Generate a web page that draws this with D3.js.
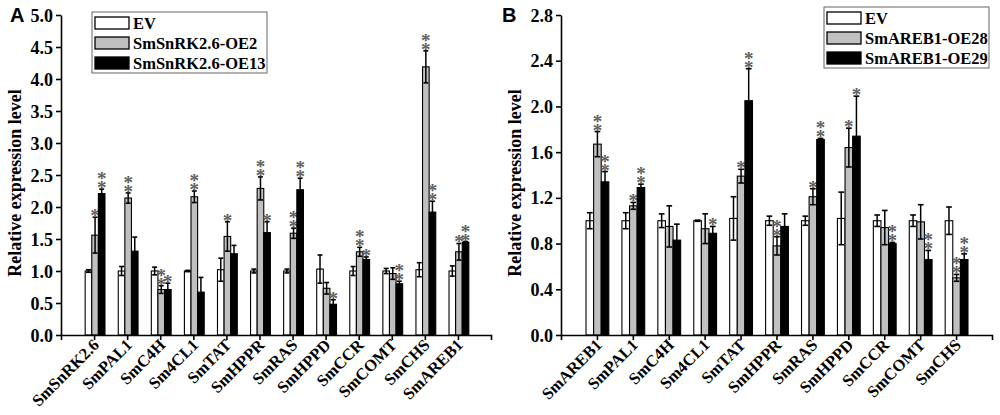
<!DOCTYPE html>
<html><head><meta charset="utf-8">
<script src="https://cdn.jsdelivr.net/npm/d3@7"></script>
<style>body{margin:0;background:#fff}svg{display:block}</style>
</head><body><svg id="c" width="1000" height="415"></svg>
<script>
// ---------- Panel A data ----------
const catsA = ["SmSnRK2.6","SmPAL1","SmC4H","Sm4CL1","SmTAT","SmHPPR","SmRAS","SmHPPD","SmCCR","SmCOMT","SmCHS","SmAREB1"];
const legendA = ["EV","SmSnRK2.6-OE2","SmSnRK2.6-OE13"];
const evA      = [1.00,1.00,1.00,1.00,1.02,1.00,1.00,1.03,1.00,1.00,1.02,1.00];
const evErrA   = [0.02,0.07,0.06,0.01,0.18,0.03,0.03,0.22,0.07,0.04,0.11,0.08];
const oe2A     = [1.56,2.14,0.71,2.16,1.54,2.29,1.59,0.73,1.30,0.96,4.19,1.30];
const oe2ErrA  = [0.28,0.08,0.06,0.09,0.23,0.18,0.08,0.09,0.07,0.09,0.25,0.13];
const oe13A    = [2.21,1.31,0.71,0.67,1.27,1.60,2.27,0.48,1.18,0.80,1.92,1.45];
const oe13ErrA = [0.07,0.22,0.10,0.23,0.13,0.17,0.18,0.07,0.04,0.04,0.17,0.01];
const starsOe2A  = [1,2,2,2,1,2,2,0,2,0,2,1];
const starsOe13A = [2,0,1,0,0,1,2,1,1,2,2,2];
const yTicksA = [0,0.5,1,1.5,2,2.5,3,3.5,4,4.5,5];

// ---------- Panel B data ----------
const catsB = ["SmAREB1","SmPAL1","SmC4H","Sm4CL1","SmTAT","SmHPPR","SmRAS","SmHPPD","SmCCR","SmCOMT","SmCHS"];
const legendB = ["EV","SmAREB1-OE28","SmAREB1-OE29"];
const evB      = [1.00,1.00,1.00,1.00,1.02,1.00,1.00,1.02,1.00,1.00,1.00];
const evErrB   = [0.07,0.07,0.06,0.005,0.19,0.04,0.04,0.23,0.05,0.05,0.12];
const oe28B    = [1.67,1.13,0.95,0.93,1.39,0.78,1.21,1.64,0.94,0.99,0.50];
const oe28ErrB = [0.11,0.03,0.18,0.13,0.06,0.08,0.07,0.17,0.15,0.15,0.03];
const oe29B    = [1.34,1.29,0.83,0.89,2.05,0.95,1.71,1.74,0.80,0.66,0.66];
const oe29ErrB = [0.09,0.03,0.14,0.06,0.28,0.11,0.01,0.35,0.01,0.08,0.05];
const starsOe28B = [2,1,0,0,1,2,1,1,0,0,2];
const starsOe29B = [2,2,0,1,2,0,2,1,2,2,2];
const yTicksB = [0,0.4,0.8,1.2,1.6,2.0,2.4,2.8];

const fills = ["#ffffff","#c0c0c0","#000000"];
const SERIF = "'Liberation Serif','Times New Roman',serif";
const svg = d3.select("#c");

function panel(cfg){
  const g = svg.append("g");
  const n = cfg.cats.length;
  const x = d3.scaleLinear().domain([0, n+1]).range(cfg.xRange);
  const y = d3.scaleLinear().domain([0, cfg.yMax]).range([335, 15]);
  const bw = cfg.barW;

  cfg.series.forEach((s, k) => {
    const sg = g.append("g");
    const cx = i => x(i+1) + cfg.shift + (k-1)*bw;
    sg.selectAll("rect").data(s.vals).join("rect")
      .attr("x", (d,i) => cx(i) - bw/2)
      .attr("y", d => y(d))
      .attr("width", bw)
      .attr("height", d => y(0) - y(d))
      .attr("fill", fills[k]).attr("stroke", "#000").attr("stroke-width", 1.1);
    const cap = bw*0.75;
    s.vals.forEach((v,i) => {
      const e = s.errs[i], c = cx(i);
      sg.append("line").attr("x1",c).attr("x2",c).attr("y1",y(v-e)).attr("y2",y(v+e))
        .attr("stroke","#000").attr("stroke-width",1.5);
      [v-e, v+e].forEach(t => sg.append("line").attr("x1",c-cap/2).attr("x2",c+cap/2)
        .attr("y1",y(t)).attr("y2",y(t)).attr("stroke","#000").attr("stroke-width",1.6));
      const ns = s.stars ? s.stars[i] : 0;
      if (ns > 0){
        const base = y(v+e) + 5;
        const t = sg.append("text").attr("x", c).attr("y", base - (ns-1)*9)
          .attr("text-anchor","middle").attr("font-family",SERIF).attr("font-weight","bold")
          .attr("font-size",19).attr("fill","#5e5e5e");
        for (let j=0;j<ns;j++){
          t.append("tspan").attr("x", c).attr("dy", j===0 ? 0 : 9).text("*");
        }
      }
    });
  });

  // y axis
  const ya = d3.axisLeft(y).tickValues(cfg.yTicks).tickFormat(d3.format(".1f"))
    .tickSize(5).tickSizeOuter(0).tickPadding(3);
  const yg = g.append("g").attr("transform",`translate(${cfg.xRange[0]},0)`).call(ya);
  yg.selectAll("path,line").attr("stroke","#000").attr("stroke-width",1.6);
  yg.selectAll("text").attr("font-family",SERIF).attr("font-weight","bold")
    .attr("font-size",18).attr("fill","#000").attr("dy","0.34em");

  // x axis
  const xa = d3.axisBottom(x).tickValues(d3.range(1, n+1)).tickFormat("")
    .tickSize(5).tickSizeOuter(5);
  const xg = g.append("g").attr("transform","translate(0,335)").call(xa);
  xg.selectAll("path,line").attr("stroke","#000").attr("stroke-width",1.6);
  g.append("g").selectAll("text").data(cfg.cats).join("text")
    .attr("transform",(d,i)=>`translate(${x(i+1)+6},346) rotate(-45)`)
    .attr("text-anchor","end").attr("font-family",SERIF).attr("font-weight","bold")
    .attr("font-size",16.5).attr("fill","#000").text(d=>d);

  // y title
  g.append("text").attr("transform",`translate(${cfg.titleX},183) rotate(-90)`)
    .attr("text-anchor","middle").attr("font-family",SERIF).attr("font-weight","bold")
    .attr("font-size",18).attr("fill","#000").text("Relative expression level");

  // panel letter
  g.append("text").attr("x",cfg.letterX).attr("y",22).attr("font-family","'Liberation Sans',Arial,sans-serif")
    .attr("font-weight","bold").attr("font-size",20).attr("fill","#000").text(cfg.letter);

  // legend
  const L = cfg.legend;
  const lg = g.append("g").attr("transform",`translate(${L.x},${L.y})`);
  lg.append("rect").attr("x",0).attr("y",0).attr("width",L.w).attr("height",L.h)
    .attr("fill","#fff").attr("stroke","#666").attr("stroke-width",1);
  cfg.legendLabels.forEach((t,k)=>{
    lg.append("rect").attr("x",3).attr("y",5+k*20).attr("width",34).attr("height",12)
      .attr("fill",fills[k]).attr("stroke","#000").attr("stroke-width",1.3);
    lg.append("text").attr("x",41).attr("y",16.5+k*20).attr("font-family",SERIF)
      .attr("font-weight","bold").attr("font-size",16.5).attr("fill","#000").text(t);
  });
}

panel({
  cats: catsA, xRange:[61,491], yMax:5, yTicks:yTicksA, barW:6.6, shift:1,
  series:[{vals:evA,errs:evErrA},{vals:oe2A,errs:oe2ErrA,stars:starsOe2A},{vals:oe13A,errs:oe13ErrA,stars:starsOe13A}],
  titleX:21, letter:"A", letterX:10,
  legend:{x:92,y:12,w:175,h:61}, legendLabels:legendA
});
panel({
  cats: catsB, xRange:[561,992], yMax:2.8, yTicks:yTicksB, barW:7.6, shift:0.5,
  series:[{vals:evB,errs:evErrB},{vals:oe28B,errs:oe28ErrB,stars:starsOe28B},{vals:oe29B,errs:oe29ErrB,stars:starsOe29B}],
  titleX:521, letter:"B", letterX:502,
  legend:{x:824,y:7,w:165,h:61}, legendLabels:legendB
});
</script></body></html>
